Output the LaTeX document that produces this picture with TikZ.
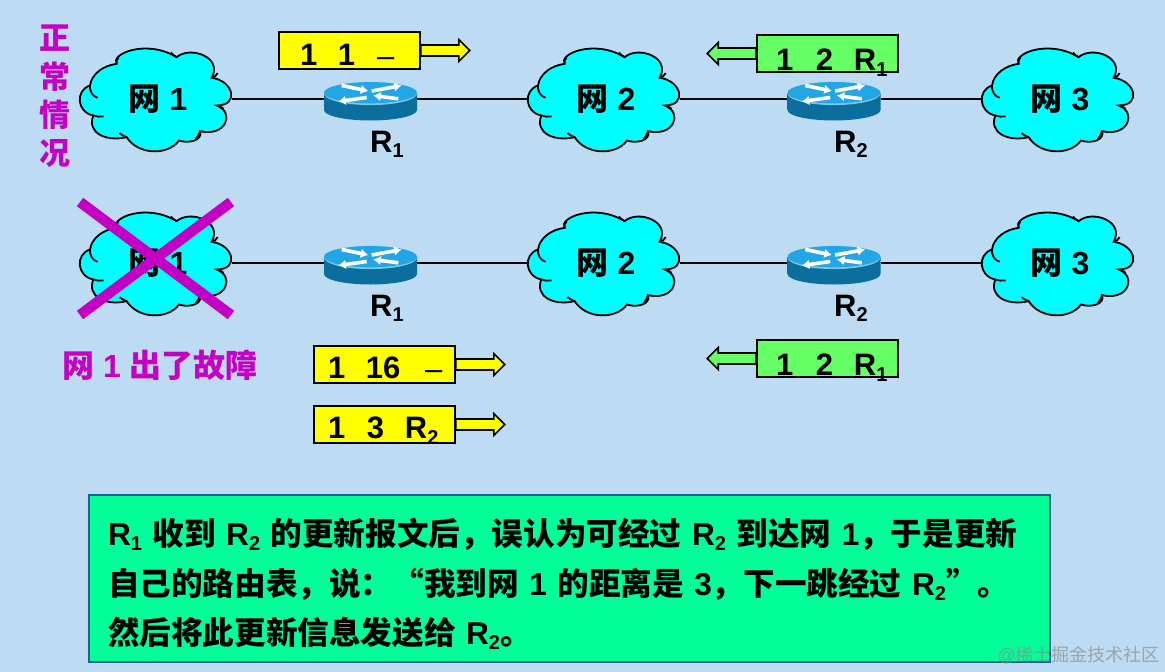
\documentclass[tikz,border=0pt]{standalone}
\usepackage{fontspec}
\setmainfont{Liberation Sans}
\newfontfamily\cjk{Noto Sans CJK SC}
\newcommand\zh[1]{{\cjk\bfseries #1}}
\newcommand\fs[1]{\fontsize{#1}{#1}\selectfont}
\newcommand\sbs[2][5pt]{\raisebox{-#1}{\fs{20}#2}}
\newcommand\atx[2]{\makebox[0pt][l]{\hspace{#1pt}#2}}
\definecolor{bgc}{HTML}{BDDCF3}
\definecolor{cloudc}{HTML}{00FFFF}
\definecolor{magc}{HTML}{C400C4}
\definecolor{yel}{HTML}{FFFF00}
\definecolor{grn}{HTML}{66FF66}
\definecolor{notec}{HTML}{00FF99}
\definecolor{notee}{HTML}{1F5F8F}
\definecolor{rtop}{HTML}{22A6E6}
\definecolor{rside}{HTML}{1483B8}
\definecolor{rsided}{HTML}{0B6E9C}
\definecolor{rrim}{HTML}{7CC8EA}
\usetikzlibrary{arrows.meta}
\tikzset{
  cloudlabel/.style={inner sep=0pt,minimum width=152pt,minimum height=46pt,font=\fs{32}\bfseries},
  routerspot/.style={inner sep=0pt,minimum width=93pt,minimum height=46pt},
  rname/.style={anchor=base west,inner sep=0pt,font=\fs{31}\bfseries},
  link/.style={line width=1.8pt,black},
  tagbox/.style={draw=black,line width=1.6pt,minimum width=141pt,minimum height=37pt,inner xsep=0pt,inner ysep=0pt,text height=#1,text depth=0pt,font=\fs{31}\bfseries},
  tagarrow/.style={draw=black,line width=1.6pt,line join=miter},
  cross/.style={line width=10.5pt,magc},
  rarrow/.style={white,line width=3.6pt,-{Latex[length=7.5pt,width=9.5pt]}},
  sidechar/.style={inner sep=0pt,text=magc,font=\fs{31}}
}
\newcommand\cloudat[4]{% name, x, y, text
  \begin{scope}[shift={(#2-81,#3-58.5)},x=.3333pt,y=-.3333pt,line width=1.8pt]
  \filldraw[fill=cloudc,draw=black]
   (125,70) .. controls (105,40) and (215,-5) .. (305,50)
   .. controls (345,15) and (445,50) .. (410,112)
   .. controls (475,120) and (495,195) .. (425,195)
   .. controls (480,215) and (455,290) .. (375,272)
   .. controls (385,300) and (340,310) .. (312,300)
   .. controls (280,345) and (190,345) .. (155,290)
   .. controls (90,305) and (35,275) .. (55,225)
   .. controls (5,215) and (0,150) .. (45,135)
   .. controls (50,100) and (85,75) .. (125,70) -- cycle;
  \draw (125,70) .. controls (122,64) and (124,58) .. (130,52);
  \draw (305,50) .. controls (298,46) and (292,42) .. (288,36);
  \draw (410,112) .. controls (418,110) and (425,105) .. (428,98);
  \draw (425,195) .. controls (433,197) and (440,200) .. (446,205);
  \draw (375,272) .. controls (372,282) and (368,290) .. (362,296);
  \draw (155,290) .. controls (148,288) and (140,284) .. (134,278);
  \draw (55,225) .. controls (64,229) and (75,229) .. (86,228);
  \draw (45,135) .. controls (43,150) and (52,168) .. (68,172);
  \end{scope}
  \node[cloudlabel] (#1) at (#2,#3) {\hspace{4pt}\zh{网} #4};
}
\newcommand\routerat[3]{% name, x, y (y = link height)
  \begin{scope}[shift={(#2,#3)}]
  \path[left color=rsided,middle color=rside,right color=rsided] (-46.5,-6) -- (-46.5,11) arc[x radius=46.5,y radius=10.5,start angle=180,end angle=0] -- (46.5,-6) -- cycle;
  \fill[rrim] (0,-5.5) ellipse[x radius=46.5,y radius=11.6];
  \fill[rtop] (0,-6.3) ellipse[x radius=46.5,y radius=10.6];
  \draw[rarrow] (-28.8,-13.5) -- (-2.2,-8);
  \draw[rarrow] (-3.8,-1.5) -- (-32.2,2.5);
  \draw[rarrow] (1.2,-8) -- (31.2,-13.5);
  \draw[rarrow] (27.8,-0.2) -- (2.8,-3.5);
  \end{scope}
  \node[routerspot] (#1) at (#2,#3) {};
}
\newcommand\rightarrowat[1]{\path[tagarrow,fill=yel] (#1.east) ++(0,-5.5) -- ++(38,0) -- ++(0,-5.5) -- ++(11,11) -- ++(-11,11) -- ++(0,-5.5) -- ++(-38,0) -- cycle;}
\newcommand\leftarrowat[1]{\path[tagarrow,fill=grn] (#1.west) ++(0,-5.5) -- ++(-38,0) -- ++(0,-5.5) -- ++(-11,11) -- ++(11,11) -- ++(0,-5.5) -- ++(38,0) -- cycle;}
\newcommand\tagdash{\raisebox{-1pt}{\mdseries –}}
\begin{document}
\begin{tikzpicture}[x=1pt,y=-1pt]
\useasboundingbox (0,0) rectangle (1165,672);
\fill[bgc] (0,0) rectangle (1165,672);

% side text
\node[sidechar] (s1) at (55,38) {\zh{正}};
\node[sidechar] (s2) at (55,77) {\zh{常}};
\node[sidechar] (s3) at (55,115) {\zh{情}};
\node[sidechar] (s4) at (55,154) {\zh{况}};

% row 1
\cloudat{na1}{156}{99}{1}
\cloudat{na2}{604}{99}{2}
\cloudat{na3}{1058}{99}{3}
\routerat{ra1}{370.5}{99}
\routerat{ra2}{834}{99}
\draw[link] (na1.east) -- (ra1.west);
\draw[link] (ra1.east) -- (na2.west);
\draw[link] (na2.east) -- (ra2.west);
\draw[link] (ra2.east) -- (na3.west);
\node[rname] (la1) at (370,152) {R\sbs{1}};
\node[rname] (la2) at (834,152) {R\sbs{2}};

% row 2
\cloudat{nb1}{156}{263}{1}
\cloudat{nb2}{604}{263}{2}
\cloudat{nb3}{1058}{263}{3}
\routerat{rb1}{370.5}{263}
\routerat{rb2}{834}{263}
\draw[link] (nb1.east) -- (rb1.west);
\draw[link] (rb1.east) -- (nb2.west);
\draw[link] (nb2.east) -- (rb2.west);
\draw[link] (rb2.east) -- (nb3.west);
\node[rname] (lb1) at (370,316) {R\sbs{1}};
\node[rname] (lb2) at (834,316) {R\sbs{2}};

% cross
\coordinate (xa) at (80,202);
\coordinate (xb) at (231,315);
\coordinate (xc) at (231,202);
\coordinate (xd) at (80,315);
\draw[cross] (xa) -- (xb);
\draw[cross] (xc) -- (xd);
\node[inner sep=0pt,text=magc,font=\fs{32}\bfseries] (fail) at (160,365) {\zh{网} 1 \zh{出了故障}};

% tags
\node[tagbox=29pt,fill=yel] (t1) at (349.5,50.5) {\makebox[141pt][l]{\atx{21}{1}\atx{59}{1}\atx{98}{\tagdash}}};
\rightarrowat{t1}
\node[tagbox=33pt,fill=grn] (t2) at (827.5,53.5) {\makebox[141pt][l]{\atx{19}{1}\atx{59}{2}\atx{97}{R\sbs[6pt]{1}}}};
\leftarrowat{t2}
\node[tagbox=27pt,fill=yel] (t3) at (384.5,364.5) {\makebox[141pt][l]{\atx{14}{1}\atx{52}{16}\atx{111}{\tagdash}}};
\rightarrowat{t3}
\node[tagbox=27pt,fill=yel] (t4) at (384.5,424.5) {\makebox[141pt][l]{\atx{14}{1}\atx{53}{3}\atx{91}{R\sbs[6pt]{2}}}};
\rightarrowat{t4}
\node[tagbox=33pt,fill=grn] (t5) at (827.5,358.5) {\makebox[141pt][l]{\atx{19}{1}\atx{59}{2}\atx{97}{R\sbs[6pt]{1}}}};
\leftarrowat{t5}

% note
\node[draw=notee,line width=1.5pt,fill=notec,minimum width=961pt,minimum height=167pt,inner sep=0pt,text width=923pt,align=left,font=\fontsize{31.6}{49.5}\selectfont\bfseries] (note) at (569.5,578.5)
{\rule{0pt}{38pt}R\sbs{1} \zh{收到} R\sbs{2} \zh{的更新报文后，误认为可经过} R\sbs{2} \zh{到达网} 1\zh{，于是更新}\\
\zh{自己的路由表，说：“我到网} 1 \zh{的距离是} 3\zh{，下一跳经过} R\sbs{2}\zh{”。}\\
\zh{然后将此更新信息发送给} R\sbs{2}\zh{。}};

% watermark
\node[inner sep=0pt,text=black!45,font=\fs{18},anchor=east,opacity=.7] (wm) at (1160,655) {@{\cjk 稀土掘金技术社区}};
\end{tikzpicture}
\end{document}
